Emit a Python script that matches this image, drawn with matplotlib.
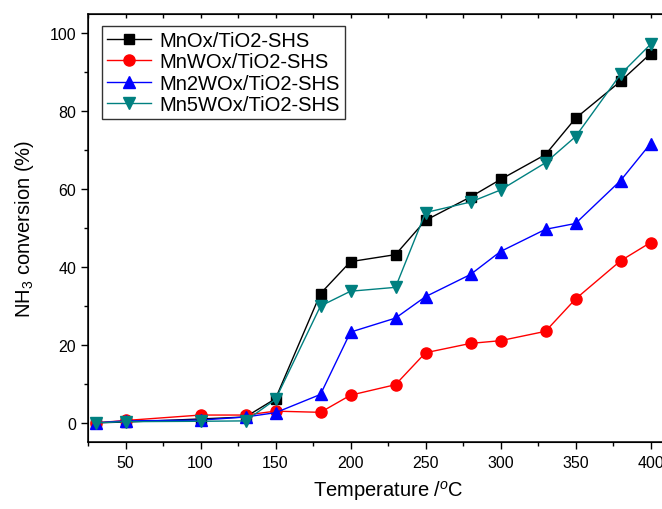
import matplotlib
matplotlib.use("Agg")
import matplotlib.pyplot as plt
from matplotlib.ticker import MultipleLocator

plt.rcParams["font.family"] = ["Liberation Sans", "DejaVu Sans"]
plt.rcParams["mathtext.fontset"] = "custom"
plt.rcParams["mathtext.rm"] = "Liberation Sans"
plt.rcParams["mathtext.it"] = "Liberation Sans:italic"

temperature = [30, 50, 100, 130, 150, 180, 200, 230, 250, 280, 300, 330, 350, 380, 400]

mnox = [0.0, 0.2, 1.0, 1.5, 6.2, 33.2, 41.4, 43.2, 52.0, 58.0, 62.5, 68.9, 78.2, 87.7, 94.8]
mnwox = [0.0, 0.6, 2.0, 2.0, 3.0, 2.7, 7.1, 9.8, 18.0, 20.4, 21.1, 23.5, 31.8, 41.6, 46.3]
mn2wox = [0.0, 0.5, 0.7, 1.5, 2.6, 7.3, 23.3, 26.9, 32.4, 38.1, 44.0, 49.7, 51.2, 62.2, 71.7]
mn5wox = [0.0, 0.3, 0.4, 0.5, 6.0, 30.0, 33.8, 34.8, 54.0, 56.7, 59.8, 66.8, 73.5, 89.5, 97.2]

labels = ["MnOx/TiO2-SHS", "MnWOx/TiO2-SHS", "Mn2WOx/TiO2-SHS", "Mn5WOx/TiO2-SHS"]
series = [mnox, mnwox, mn2wox, mn5wox]
colors = ["black", "red", "blue", "#008080"]
markers = ["s", "o", "^", "v"]
msizes = [7, 8, 8.5, 8.5]

fig = plt.figure(figsize=(6.62, 5.10), dpi=100)
# axes run past the right edge of the picture, as in the original crop
ax = fig.add_axes([88 / 662, 66.7 / 510, 600 / 662, 428.3 / 510])

for vals, lab, c, m, ms in zip(series, labels, colors, markers, msizes):
    ax.plot(temperature, vals, color=c, marker=m, markersize=ms, lw=1.0,
            label=lab, clip_on=False)

ax.set_xlim(25, 425)
ax.set_ylim(-5, 105)
ax.xaxis.set_major_locator(MultipleLocator(50))
ax.xaxis.set_minor_locator(MultipleLocator(25))
ax.yaxis.set_major_locator(MultipleLocator(20))
ax.yaxis.set_minor_locator(MultipleLocator(10))
ax.tick_params(which="major", direction="out", length=5, width=1,
               labelsize=11.5, top=False, right=False)
ax.tick_params(which="minor", direction="out", length=3, width=1,
               top=False, right=False)
ax.tick_params(axis="x", pad=4)
for s in ax.spines.values():
    s.set_linewidth(1.1)

top = ax.twiny()
top.set_xlim(ax.get_xlim())
top.xaxis.set_major_locator(MultipleLocator(25))
top.tick_params(axis="x", direction="in", length=3, width=1, labeltop=False)

ax.set_xlabel("Temperature /$^{o}$C", fontsize=14.5, labelpad=6)
ax.set_ylabel("NH$_3$ conversion (%)", fontsize=14.5, labelpad=10)

leg = ax.legend(loc="upper left", bbox_to_anchor=(14 / 600, 1 - 12 / 428.3),
                fontsize=14.5, frameon=True, fancybox=False, edgecolor="black",
                handlelength=2.2, handletextpad=0.4, labelspacing=0.12,
                borderpad=0.25, borderaxespad=0)
leg.get_frame().set_linewidth(1.0)

fig.savefig("out.png", dpi=100)
